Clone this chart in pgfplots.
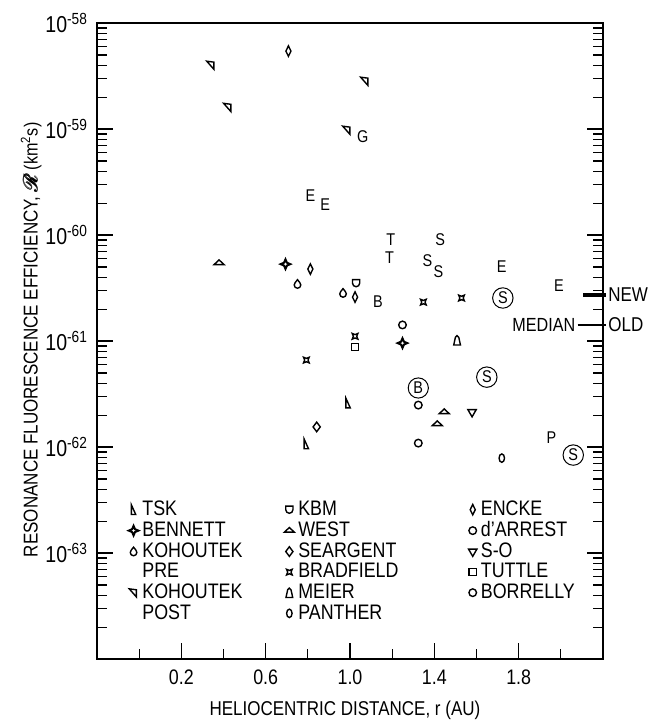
\documentclass[border=0pt]{standalone}
\usepackage{fontspec}
\setmainfont{Liberation Sans}[FakeStretch=0.85]
\usepackage{amsmath}
\usepackage{mathrsfs}
\usepackage{pgfplots}
\pgfplotsset{compat=1.18}

% hand-made marks for the comet symbols
\pgfdeclareplotmark{star4}{%
  \pgfpathmoveto{\pgfqpoint{0pt}{\pgfplotmarksize}}%
  \pgfpathlineto{\pgfqpoint{0.3\pgfplotmarksize}{0.3\pgfplotmarksize}}%
  \pgfpathlineto{\pgfqpoint{\pgfplotmarksize}{0pt}}%
  \pgfpathlineto{\pgfqpoint{0.3\pgfplotmarksize}{-0.3\pgfplotmarksize}}%
  \pgfpathlineto{\pgfqpoint{0pt}{-\pgfplotmarksize}}%
  \pgfpathlineto{\pgfqpoint{-0.3\pgfplotmarksize}{-0.3\pgfplotmarksize}}%
  \pgfpathlineto{\pgfqpoint{-\pgfplotmarksize}{0pt}}%
  \pgfpathlineto{\pgfqpoint{-0.3\pgfplotmarksize}{0.3\pgfplotmarksize}}%
  \pgfpathclose\pgfusepathqstroke}
\pgfdeclareplotmark{shield}{%
  \pgfpathmoveto{\pgfqpoint{-\pgfplotmarksize}{\pgfplotmarksize}}%
  \pgfpathlineto{\pgfqpoint{\pgfplotmarksize}{\pgfplotmarksize}}%
  \pgfpathlineto{\pgfqpoint{\pgfplotmarksize}{0pt}}%
  \pgfpatharc{0}{-180}{\pgfplotmarksize}%
  \pgfpathclose\pgfusepathqstroke}
\pgfdeclareplotmark{arch}{%
  \pgfpathmoveto{\pgfqpoint{-0.7\pgfplotmarksize}{-\pgfplotmarksize}}%
  \pgfpathlineto{\pgfqpoint{0.7\pgfplotmarksize}{-\pgfplotmarksize}}%
  \pgfpathlineto{\pgfqpoint{0.35\pgfplotmarksize}{0.6\pgfplotmarksize}}%
  \pgfpatharc{0}{180}{0.35\pgfplotmarksize}%
  \pgfpathclose\pgfusepathqstroke}
\pgfdeclareplotmark{drop}{%
  \pgfpathmoveto{\pgfqpoint{0pt}{\pgfplotmarksize}}%
  \pgfpathlineto{\pgfqpoint{0.53\pgfplotmarksize}{0.33\pgfplotmarksize}}%
  \pgfpatharc{45}{-225}{0.75\pgfplotmarksize}%
  \pgfpathclose\pgfusepathqstroke}
\pgfdeclareplotmark{rtri}{% narrow right triangle
  \pgfpathmoveto{\pgfqpoint{-0.45\pgfplotmarksize}{\pgfplotmarksize}}%
  \pgfpathlineto{\pgfqpoint{-0.45\pgfplotmarksize}{-\pgfplotmarksize}}%
  \pgfpathlineto{\pgfqpoint{0.45\pgfplotmarksize}{-\pgfplotmarksize}}%
  \pgfpathclose\pgfusepathqstroke}
\pgfdeclareplotmark{ptri}{% kohoutek post
  \pgfpathmoveto{\pgfqpoint{-0.9\pgfplotmarksize}{0.8\pgfplotmarksize}}%
  \pgfpathlineto{\pgfqpoint{0.6\pgfplotmarksize}{0.6\pgfplotmarksize}}%
  \pgfpathlineto{\pgfqpoint{0.6\pgfplotmarksize}{-0.9\pgfplotmarksize}}%
  \pgfpathclose\pgfusepathqstroke}

\pgfplotsset{
  mk/.style={only marks, black, line width=0.7pt, mark size=2.4pt,
    legend image code/.code={\draw[mark repeat=2,mark phase=2,##1] plot coordinates {(0cm,0cm) (0.13cm,0cm) (0.26cm,0cm)};}},
}

\begin{document}
\begin{tikzpicture}
\useasboundingbox (-48.5pt,-30.5pt) rectangle (277pt,329.5pt);
\begin{axis}[
  scale only axis, width=253pt, height=318pt,
  xmin=-0.2, xmax=2.2,
  ymode=log, log basis y=10, ymin=1e-64, ymax=1e-58,
  clip=false,
  axis line style={line width=0.9pt},
  tick align=inside, xtick pos=bottom, ytick pos=both, yticklabel pos=left,
  major tick length=8pt, minor tick length=5pt,
  every tick/.style={black, line width=0.6pt},
  xtick={0.2,0.6,1.0,1.4,1.8}, xticklabels={0.2,0.6,1.0,1.4,1.8},
  minor xtick={0,0.4,0.8,1.2,1.6,2.0},
  yticklabel={\pgfmathtruncatemacro\ex{round(\tick)}\ifnum\ex<-63 \else 10\textsuperscript{\ex}\fi},
  yticklabel style={font=\fontsize{11.5}{12}\selectfont, xshift=-1pt},
  xticklabel style={font=\fontsize{10.5}{11}\selectfont, yshift=-2pt},
  xlabel={HELIOCENTRIC DISTANCE, r (AU)},
  ylabel={RESONANCE FLUORESCENCE EFFICIENCY, $\pmb{\mathscr{R}}$\,{\fontsize{9.5}{10}\selectfont(km\textsuperscript{2}s)}},
  xlabel style={font=\fontsize{9.5}{10}\selectfont},
  ylabel style={font=\fontsize{12.4}{13}\selectfont},
  every axis x label/.style={at={(axis description cs:0.49,-0.08)},anchor=center},
  every axis y label/.style={at={(axis description cs:-0.13,0.502)},rotate=90,anchor=center},
  legend columns=6, transpose legend, legend cell align=left,
  legend style={at={(axis description cs:0.045,0.262)}, anchor=north west,
    draw=none, fill=none, font=\fontsize{10.5}{11}\selectfont, row sep=-2.5pt},
]
% TSK
\addplot[mk, mark=rtri] coordinates {(0.991,2.60e-62) (0.793,1.07e-62)};
\addlegendentry{\makebox[69pt][l]{TSK}}
% BENNETT
\addplot[mk, mark=star4, line width=1pt] coordinates {(0.694,5.32e-61) (1.249,9.57e-62)};
\addlegendentry{BENNETT}
% KOHOUTEK PRE
\addplot[mk, mark=drop, mark size=2.2pt] coordinates {(0.751,3.45e-61) (0.967,2.84e-61)};
\addlegendentry{KOHOUTEK}
\addlegendimage{empty legend}
\addlegendentry{PRE}
% KOHOUTEK POST
\addplot[mk, mark=ptri] coordinates {(0.341,4.02e-59) (0.421,1.61e-59) (1.071,2.84e-59) (0.986,9.8e-60)};
\addlegendentry{KOHOUTEK}
\addlegendimage{empty legend}
\addlegendentry{POST}
% KBM
\addplot[mk, mark=shield, mark size=1.8pt] coordinates {(1.029,3.52e-61)};
\addlegendentry{\makebox[81.5pt][l]{KBM}}
% WEST
\addplot[mk, mark=triangle, mark options={xscale=1.2,yscale=0.65}] coordinates {(0.379,5.45e-61) (1.447,2.14e-62) (1.414,1.65e-62)};
\addlegendentry{WEST}
% SEARGENT
\addplot[mk, mark=diamond] coordinates {(0.842,1.55e-62)};
\addlegendentry{SEARGENT}
% BRADFIELD
\addplot[mk, mark=star4, mark size=2pt, mark options={rotate=45}] coordinates {(1.348,2.33e-61) (1.529,2.55e-61) (1.024,1.11e-61) (0.793,6.62e-62)};
\addlegendentry{BRADFIELD}
% MEIER
\addplot[mk, mark=arch] coordinates {(1.508,1.02e-61)};
\addlegendentry{MEIER}
% PANTHER
\addplot[mk, mark=o, mark size=2.1pt, mark options={xscale=0.65}] coordinates {(1.720,7.87e-63)};
\addlegendentry{PANTHER}
% ENCKE
\addplot[mk, mark=diamond, mark size=2.6pt, mark options={xscale=0.65}] coordinates {(0.708,5.44e-59) (0.812,4.78e-61) (1.024,2.60e-61)};
\addlegendentry{ENCKE}
% d'ARREST
\addplot[mk, mark=o, mark size=1.9pt] coordinates {(1.249,1.42e-61) (1.324,1.09e-62)};
\addlegendentry{d'ARREST}
% S-O
\addplot[mk, mark=triangle, mark options={rotate=180}] coordinates {(1.579,2.14e-62)};
\addlegendentry{S-O}
% TUTTLE
\addplot[mk, mark=square, mark size=1.8pt] coordinates {(1.024,8.77e-62)};
\addlegendentry{TUTTLE}
% BORRELLY
\addplot[mk, mark=o, mark size=1.9pt] coordinates {(1.324,2.49e-62)};
\addlegendentry{BORRELLY}
\addlegendimage{empty legend}
\addlegendentry{}

% letter symbols
\addplot[draw=none, mark=none, forget plot, point meta=explicit symbolic,
  nodes near coords, nodes near coords align={center},
  every node near coord/.append style={font=\fontsize{8.5}{9}\selectfont, inner sep=0pt}]
  table[meta=l] {
x     y        l
0.812 2.38e-60 E
0.882 1.92e-60 E
1.061 8.41e-60 G
1.193 8.97e-61 T
1.188 6.07e-61 T
1.428 8.97e-61 S
1.367 5.69e-61 S
1.419 4.48e-61 S
1.720 4.99e-61 E
1.991 3.37e-61 E
1.132 2.38e-61 B
1.955 1.24e-62 P
};
\addplot[draw=none, mark=none, forget plot, point meta=explicit symbolic,
  nodes near coords, nodes near coords align={center},
  every node near coord/.append style={font=\fontsize{8.5}{9}\selectfont, draw=black, circle, inner sep=0.9pt, line width=0.5pt}]
  table[meta=l] {
x     y        l
1.725 2.55e-61 S
1.649 4.57e-62 S
1.324 3.61e-62 B
2.059 8.41e-63 S
};
% median marks on the right axis
\addplot[forget plot, black, line width=1.6pt] coordinates {(2.106,2.72e-61) (2.214,2.72e-61)};
\addplot[forget plot, black, line width=0.8pt] coordinates {(2.08,1.42e-61) (2.214,1.42e-61)};
\node[anchor=west, inner sep=1pt, font=\fontsize{10}{11}\selectfont] at (axis cs:2.214,2.72e-61) {NEW};
\node[anchor=west, inner sep=1pt, font=\fontsize{10}{11}\selectfont] at (axis cs:2.214,1.42e-61) {OLD};
\node[anchor=east, inner sep=1pt, font=\fontsize{9.5}{10}\selectfont] at (axis cs:2.08,1.42e-61) {MEDIAN};
\end{axis}
\end{tikzpicture}
\end{document}
